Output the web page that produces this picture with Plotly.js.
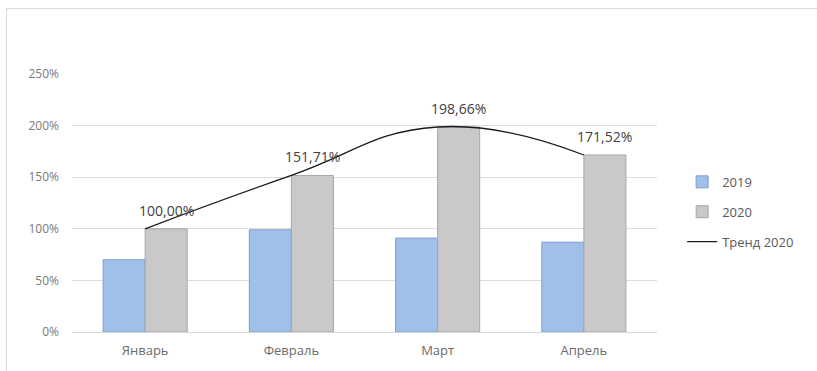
<!DOCTYPE html>
<html>
<head>
<meta charset="utf-8">
<script src="https://cdn.plot.ly/plotly-3.0.1.min.js"></script>
<style>
  html, body { margin: 0; padding: 0; background: #fff; }
  #frame { position: absolute; left: 6px; top: 8px; width: 830px; height: 380px; border: 1px solid #d9d9d9; box-sizing: border-box; }
  #chart { position: absolute; left: 0; top: 0; width: 817px; height: 371px; }
</style>
</head>
<body>
<div id="frame"></div>
<div id="chart"></div>
<script>
const months = ['Январь', 'Февраль', 'Март', 'Апрель'];
const values2019 = [70, 99, 91, 87];
const values2020 = [100.00, 151.71, 198.66, 171.52];
const yTicks = [0, 50, 100, 150, 200, 250];
const seriesNames = ['2019', '2020', 'Тренд 2020'];

const fmt = v => v.toFixed(2).replace('.', ',') + '%';

const traces = [
  {
    type: 'bar', name: seriesNames[0], x: months, y: values2019,
    legendgroup: 'a',
    marker: { color: '#a0c0e9', line: { color: '#7c9fcc', width: 1 } },
    hoverinfo: 'skip'
  },
  {
    type: 'bar', name: seriesNames[1], x: months, y: values2020,
    legendgroup: 'b',
    marker: { color: '#c9c9c9', line: { color: '#a6a6a6', width: 1 } },
    hoverinfo: 'skip'
  },
  {
    type: 'scatter', mode: 'lines', name: seriesNames[2], x: months, y: values2020,
    legendgroup: 'c',
    line: { color: '#1a1a1a', width: 1.3, shape: 'spline', smoothing: 1.3 },
    hoverinfo: 'skip', cliponaxis: false
  }
];

const annotations = months.map((m, i) => ({
  x: m, y: values2020[i], xref: 'x', yref: 'y',
  text: fmt(values2020[i]), showarrow: false,
  xanchor: 'center', yanchor: 'bottom', xshift: 21, yshift: 7,
  font: { family: 'Open Sans, sans-serif', size: 14, color: '#404040' }
}));

const layout = {
  width: 817, height: 371,
  margin: { l: 72, r: 160, t: 74, b: 39 },
  paper_bgcolor: 'rgba(0,0,0,0)', plot_bgcolor: 'rgba(0,0,0,0)',
  font: { family: 'Open Sans, sans-serif', size: 12, color: '#6b6b6b' },
  barmode: 'group', bargap: 0.425, bargroupgap: 0,
  showlegend: true,
  legend: {
    x: 1.043, y: 0.64, xanchor: 'left', yanchor: 'top',
    traceorder: 'grouped', tracegroupgap: 10,
    font: { size: 13, color: '#595959' }, itemwidth: 30
  },
  xaxis: {
    type: 'category', showgrid: false, zeroline: false,
    showline: true, linecolor: '#d9d9d9', linewidth: 1,
    ticks: '', ticklabelstandoff: 6, tickfont: { size: 13, color: '#6b6b6b' }
  },
  yaxis: {
    range: [0, 250], tickvals: yTicks, ticktext: yTicks.map(v => v + '%'),
    showgrid: true, gridcolor: '#dcdcdc', gridwidth: 1,
    zeroline: false, showline: false, ticks: '',
    ticklabelstandoff: 12, tickfont: { size: 12, color: '#7a7a7a' }
  },
  annotations: annotations
};

Plotly.newPlot('chart', traces, layout, { staticPlot: true, displayModeBar: false });
</script>
</body>
</html>
